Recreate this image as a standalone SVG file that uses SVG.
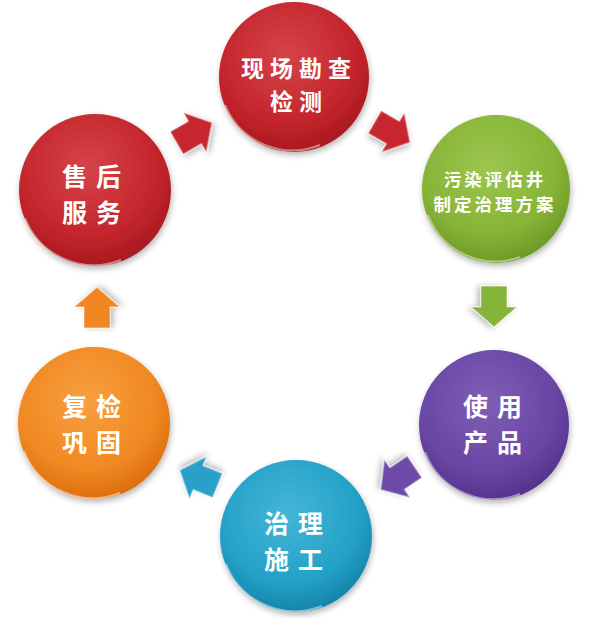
<svg xmlns="http://www.w3.org/2000/svg" width="600" height="618" viewBox="0 0 600 618">
<defs>
<style>
.lbl{font-family:"Noto Sans CJK SC","Noto Sans",sans-serif;font-weight:bold;fill:#fff;text-anchor:middle;dominant-baseline:central}
.big{font-size:25px;letter-spacing:9px}
.mid{font-size:23px;letter-spacing:6px}
.sm{font-size:17.5px;letter-spacing:3px}
.rim{fill:none;stroke:#fff;stroke-opacity:0.45;stroke-width:2}
.arr{stroke:#fff;stroke-opacity:0.5;stroke-width:1.2;stroke-linejoin:round}
</style>
<filter id="sh" x="-20%" y="-20%" width="140%" height="140%">
<feGaussianBlur in="SourceAlpha" stdDeviation="3"/>
<feOffset dx="1" dy="3" result="b"/>
<feComponentTransfer><feFuncA type="linear" slope="0.3"/></feComponentTransfer>
<feMerge><feMergeNode/><feMergeNode in="SourceGraphic"/></feMerge>
</filter>
<radialGradient id="gRed" cx="45%" cy="35%" r="65%"><stop offset="0" stop-color="#d5444a"/><stop offset="0.7" stop-color="#c4252c"/><stop offset="1" stop-color="#a81a20"/></radialGradient>
<radialGradient id="gGreen" cx="45%" cy="35%" r="65%"><stop offset="0" stop-color="#9dc64e"/><stop offset="0.7" stop-color="#86b437"/><stop offset="1" stop-color="#6e9a26"/></radialGradient>
<radialGradient id="gPurple" cx="45%" cy="35%" r="65%"><stop offset="0" stop-color="#7f5fb6"/><stop offset="0.7" stop-color="#6946a4"/><stop offset="1" stop-color="#55348c"/></radialGradient>
<radialGradient id="gCyan" cx="45%" cy="35%" r="65%"><stop offset="0" stop-color="#44b6d6"/><stop offset="0.7" stop-color="#24a1c8"/><stop offset="1" stop-color="#1585aa"/></radialGradient>
<radialGradient id="gOrange" cx="45%" cy="35%" r="65%"><stop offset="0" stop-color="#f7a040"/><stop offset="0.7" stop-color="#f18822"/><stop offset="1" stop-color="#dc6f10"/></radialGradient>
<path id="arrow" d="M -20,-13 L 1,-13 L 1,-23 L 21,0 L 1,23 L 1,13 L -20,13 Z"/>
</defs>
<rect width="600" height="618" fill="#fff"/>

<g id="connectors">
<use href="#arrow" class="arr" fill="#c8282e" filter="url(#sh)" transform="translate(194,133) rotate(-30)"/>
<use href="#arrow" class="arr" fill="#c8282e" filter="url(#sh)" transform="translate(392,132) rotate(30)"/>
<use href="#arrow" class="arr" fill="#86b43a" filter="url(#sh)" transform="translate(494,306) rotate(90)"/>
<use href="#arrow" class="arr" fill="#6d4aa8" filter="url(#sh)" transform="translate(398,478) rotate(146)"/>
<use href="#arrow" class="arr" fill="#2aa0c8" filter="url(#sh)" transform="translate(199,478) rotate(202)"/>
<use href="#arrow" class="arr" fill="#f08524" filter="url(#sh)" transform="translate(97,308) rotate(-90)"/>
</g>

<g id="node-survey">
<circle cx="294" cy="77" r="75" fill="url(#gRed)" filter="url(#sh)"/>
<path class="rim" d="M 225,105 A 73,73 0 0 0 320,145"/>
<text class="lbl mid" x="299" y="67">现场勘查</text>
<text class="lbl mid" x="299" y="100">检测</text>
</g>

<g id="node-assess">
<circle cx="496" cy="189" r="74" fill="url(#gGreen)" filter="url(#sh)"/>
<path class="rim" d="M 428,215 A 72,72 0 0 0 520,257"/>
<text class="lbl sm" x="495" y="178">污染评估井</text>
<text class="lbl sm" x="495" y="203.5">制定治理方案</text>
</g>

<g id="node-product">
<circle cx="494" cy="425" r="75" fill="url(#gPurple)" filter="url(#sh)"/>
<path class="rim" d="M 425,452 A 73,73 0 0 0 520,494"/>
<text class="lbl big" x="497" y="405">使用</text>
<text class="lbl big" x="497" y="441">产品</text>
</g>

<g id="node-construct">
<circle cx="296" cy="536" r="76" fill="url(#gCyan)" filter="url(#sh)"/>
<path class="rim" d="M 226,564 A 74,74 0 0 0 322,606"/>
<text class="lbl big" x="298" y="522">治理</text>
<text class="lbl big" x="298" y="558">施工</text>
</g>

<g id="node-recheck">
<circle cx="94" cy="423" r="76" fill="url(#gOrange)" filter="url(#sh)"/>
<path class="rim" d="M 24,451 A 74,74 0 0 0 120,493"/>
<text class="lbl big" x="96" y="405">复检</text>
<text class="lbl big" x="96" y="441">巩固</text>
</g>

<g id="node-service">
<circle cx="95" cy="190" r="76" fill="url(#gRed)" filter="url(#sh)"/>
<path class="rim" d="M 25,218 A 74,74 0 0 0 121,260"/>
<text class="lbl big" x="96" y="175">售后</text>
<text class="lbl big" x="96" y="211">服务</text>
</g>
</svg>
